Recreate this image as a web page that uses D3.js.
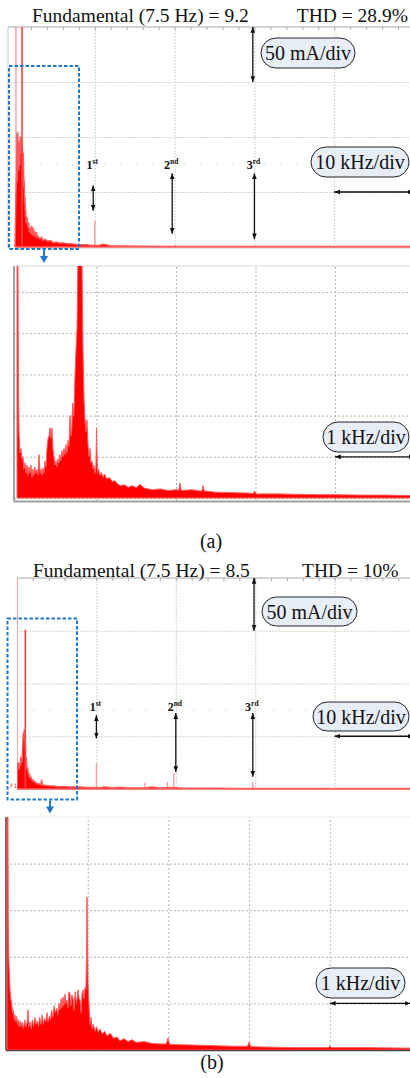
<!DOCTYPE html>
<html>
<head>
<meta charset="utf-8">
<script src="https://cdn.jsdelivr.net/npm/d3@7"></script>
<style>
  body { margin: 0; background: #fff; }
  text { font-family: "Liberation Serif", "Times New Roman", serif; fill: #111; }
</style>
</head>
<body>
<svg id="chart" width="410" height="1078"></svg>
<script>
// ---- (a) overview spectrum, 0-50 kHz, amplitude in mA
const specA = [[0,0],[0.1,40],[0.2,70],[0.25,103],[0.3,60],[0.35,104],[0.4,80],[0.45,96],[0.5,70],[0.55,94],
  [0.6,75],[0.65,100],[0.7,85],[0.75,98],[0.8,90],[0.85,95],[0.9,92],[0.95,88],[1.0,70],[1.05,85],[1.1,55],
  [1.15,61],[1.2,40],[1.25,45],[1.3,28],[1.35,33],[1.4,22],[1.5,27],[1.6,18],[1.7,22],[1.8,14],[1.9,17],
  [2.0,12],[2.1,19],[2.2,11],[2.3,17],[2.4,10],[2.5,14],[2.6,9],[2.7,13],[2.8,8],[2.9,10],[3.1,7],[3.3,9],
  [3.5,6],[3.8,7],[4.1,5],[4.4,6],[4.8,4],[5.2,4.5],[5.6,3.5],[6.0,3.8],[6.5,3],[7.0,3],[7.5,2.5],[8.0,2.2],
  [8.5,2],[9.0,2.2],[9.5,1.5],[10.5,1.5],[11,2.5],[12,1.2],[14,1.0],[16,0.8],[20,0.6],[25,0.5],[30,0.5],
  [40,0.4],[50,0.4]];
const spikesA = [[0.12,200],[10.0,23.6],[20.05,1.8],[30,1.5]];
const peakA = [[0.88,200]];

// ---- (a) zoomed spectrum, 0-5 kHz, amplitude in divisions
const zoomA = [[0,5.7],[0.012,5.7],[0.018,2.7],[0.025,1.6],[0.037,1.1],[0.05,1.2],[0.062,0.95],[0.075,1.0],
  [0.087,0.7],[0.1,0.85],[0.112,0.6],[0.125,0.8],[0.137,0.55],[0.15,0.75],[0.162,0.6],[0.175,0.8],[0.187,0.5],
  [0.2,0.7],[0.212,0.55],[0.225,0.75],[0.237,0.6],[0.25,0.68],[0.262,0.55],[0.277,1.05],[0.29,0.6],[0.302,0.7],
  [0.315,0.55],[0.327,0.73],[0.34,0.6],[0.352,0.9],[0.365,0.75],[0.377,1.2],[0.39,1.45],[0.403,1.5],[0.415,1.7],
  [0.428,1.45],[0.44,1.7],[0.452,1.2],[0.465,1.0],[0.478,0.8],[0.49,0.9],[0.503,0.75],[0.515,0.95],[0.528,0.85],
  [0.54,1.05],[0.553,0.9],[0.566,1.15],[0.578,1.0],[0.591,1.2],[0.604,1.05],[0.616,1.3],[0.629,1.1],[0.642,1.4],
  [0.654,1.25],[0.667,2.0],[0.68,1.5],[0.69,1.7],[0.70,2.3],[0.715,2.0],[0.73,3.0],[0.742,3.6],[0.755,4.1],
  [0.765,5.7],[0.818,5.7],[0.83,3.6],[0.843,2.4],[0.855,1.9],[0.868,1.6],[0.88,1.9],[0.893,1.3],[0.905,1.0],
  [0.918,1.2],[0.93,0.85],[0.943,0.9],[0.955,0.7],[0.968,0.8],[0.98,0.6],[0.993,0.75],[1.0,1.7],[1.012,0.6],
  [1.025,0.7],[1.044,0.55],[1.06,0.62],[1.08,0.5],[1.1,0.58],[1.13,0.46],[1.16,0.5],[1.2,0.4],[1.23,0.42],
  [1.26,0.35],[1.3,0.3],[1.35,0.32],[1.4,0.26],[1.45,0.3],[1.5,0.25],[1.547,0.33],[1.6,0.24],[1.7,0.2],
  [1.8,0.22],[1.9,0.18],[2.0,0.2],[2.035,0.19],[2.05,0.36],[2.065,0.18],[2.2,0.2],[2.3,0.17],[2.325,0.17],
  [2.34,0.3],[2.355,0.17],[2.5,0.14],[2.7,0.13],[2.9,0.12],[2.975,0.11],[2.99,0.17],[3.005,0.1],[3.3,0.1],
  [3.5,0.09],[3.8,0.08],[4.0,0.08],[4.3,0.07],[4.6,0.07],[5.0,0.06]];

// ---- (b) overview spectrum
const specB = [[0,0],[0.05,22],[0.12,25],[0.18,20],[0.25,24],[0.3,19],[0.38,25],[0.42,22],[0.47,30],[0.52,24],
  [0.58,27],[0.63,26],[0.68,35],[0.72,42],[0.76,48],[0.8,53],[0.86,50],[0.92,56],[0.96,48],[1.0,46],[1.05,40],
  [1.1,27],[1.16,30],[1.22,22],[1.3,18],[1.36,20],[1.42,14],[1.5,15],[1.55,11],[1.62,13],[1.7,10],[1.78,11],
  [1.85,8.5],[1.95,9],[2.06,6.6],[2.2,7.5],[2.35,5.5],[2.48,5.7],[2.6,4.5],[2.8,5],[3.0,4],[3.1,8.5],[3.2,3.8],
  [3.5,3.5],[3.8,3.2],[4.16,2.8],[4.5,3],[5,2.4],[5.5,2.2],[6,2.5],[6.5,1.9],[7,2],[7.5,1.8],[8,1.9],[8.5,1.6],
  [9,1.5],[9.5,1.4],[10.5,1.3],[11,2],[12,1.2],[13,1.8],[14,1.1],[16,1.0],[17,2],[18,0.9],[19.5,1.5],[21,0.8],
  [23,0.7],[25,0.7],[28,0.6],[30.5,0.6],[35,0.5],[40,0.5],[45,0.5],[50,0.5]];
const spikesB = [[0.03,200],[10.0,24.6],[16.1,6],[18.95,6.6],[19.75,15],[29.7,6.6]];
const peakB = [[1.05,151]];

// ---- (b) zoomed spectrum
const zoomB = [[0,5.0],[0.012,5.0],[0.016,2.6],[0.022,2.0],[0.028,1.7],[0.037,1.3],[0.047,1.1],[0.058,1.0],
  [0.068,0.8],[0.078,0.86],[0.09,0.65],[0.1,0.75],[0.11,0.6],[0.12,0.72],[0.13,0.55],[0.14,0.65],[0.15,0.5],
  [0.16,0.62],[0.175,0.5],[0.19,0.6],[0.205,0.45],[0.22,0.64],[0.235,0.5],[0.25,0.6],[0.26,0.86],[0.27,0.5],
  [0.285,0.6],[0.3,0.45],[0.315,0.65],[0.33,0.5],[0.345,0.7],[0.36,0.55],[0.375,0.62],[0.39,0.5],[0.405,0.7],
  [0.42,0.55],[0.435,0.75],[0.45,0.55],[0.465,0.68],[0.48,0.6],[0.495,0.8],[0.51,0.6],[0.525,0.72],[0.54,0.65],
  [0.555,0.85],[0.57,0.7],[0.585,0.95],[0.6,0.8],[0.615,0.9],[0.63,0.75],[0.645,1.0],[0.657,0.86],[0.67,1.1],
  [0.68,0.9],[0.694,1.14],[0.705,0.95],[0.72,1.2],[0.73,1.0],[0.743,1.07],[0.755,0.9],[0.768,1.25],[0.78,1.22],
  [0.79,0.95],[0.805,1.18],[0.818,1.1],[0.83,0.85],[0.845,1.25],[0.86,1.0],[0.88,1.29],[0.893,1.1],[0.905,1.07],
  [0.918,0.8],[0.93,1.2],[0.942,1.29],[0.955,1.1],[0.967,1.35],[0.978,1.3],[0.985,2.0],[0.991,3.28],[0.997,2.4],
  [1.004,1.43],[1.015,1.0],[1.028,0.55],[1.04,0.7],[1.055,0.45],[1.07,0.55],[1.09,0.4],[1.11,0.5],[1.13,0.38],
  [1.15,0.45],[1.18,0.35],[1.21,0.4],[1.24,0.3],[1.28,0.36],[1.32,0.25],[1.36,0.28],[1.4,0.2],[1.45,0.24],
  [1.5,0.18],[1.55,0.22],[1.6,0.16],[1.7,0.18],[1.8,0.14],[1.9,0.13],[1.975,0.13],[1.995,0.26],[2.015,0.12],
  [2.2,0.11],[2.4,0.1],[2.6,0.09],[2.8,0.08],[2.98,0.08],[2.999,0.17],[3.02,0.07],[3.3,0.06],[3.6,0.05],
  [3.985,0.05],[4.0,0.09],[4.015,0.05],[4.5,0.05],[5.0,0.04]];

// harmonic annotations (kHz, mA)
const harmNum = ["1", "2", "3"];
const harmSup = ["st", "nd", "rd"];
const harmFreqA = [9.8, 19.7, 30], harmTopA = [56, 67, 67], harmBotA = [33, 12, 7];
const harmFreqB = [10, 20, 29.7], harmTopB = [70, 72, 72], harmBotB = [48, 16, 11.5];

const svg = d3.select("#chart");
svg.append("rect").attr("width", 410).attr("height", 1078).attr("fill", "#fff");
const defs = svg.append("defs");
defs.append("marker").attr("id", "head").attr("viewBox", "0 0 10 10")
  .attr("refX", 10).attr("refY", 5).attr("markerWidth", 4.5).attr("markerHeight", 4.5)
  .attr("orient", "auto-start-reverse")
  .append("path").attr("d", "M0,1L10,5L0,9Z").attr("fill", "#111");

function arrow(x1, y1, x2, y2) {
  svg.append("line").attr("x1", x1).attr("y1", y1).attr("x2", x2).attr("y2", y2)
    .attr("stroke", "#111").attr("stroke-width", 1.3)
    .attr("marker-start", "url(#head)").attr("marker-end", "url(#head)");
}

function pill(x, y, w, h, label) {
  svg.append("rect").attr("x", x).attr("y", y).attr("width", w).attr("height", h)
    .attr("rx", h / 2).attr("fill", "#e8eef8").attr("stroke", "#222").attr("stroke-width", 1);
  svg.append("text").attr("x", x + w / 2).attr("y", y + h / 2 + 7)
    .attr("text-anchor", "middle").attr("font-size", 20).text(label);
}

function panel(cfg) {
  const x = d3.scaleLinear().domain(cfg.xDomain).range(cfg.xRange);
  const y = d3.scaleLinear().domain(cfg.yDomain).range(cfg.yRange);
  const [fx0, fy0, fx1, fy1] = cfg.frame;
  const g = svg.append("g");

  defs.append("clipPath").attr("id", "clip" + cfg.id).append("rect")
    .attr("x", fx0).attr("y", fy0).attr("width", fx1 - fx0).attr("height", fy1 - fy0);

  // grid through axes
  const gx = g.append("g").attr("transform", `translate(0,${fy1})`)
    .call(d3.axisBottom(x).tickValues(cfg.xGrid).tickSize(-(fy1 - fy0)).tickFormat(""));
  const gy = g.append("g").attr("transform", `translate(${fx0},0)`)
    .call(d3.axisLeft(y).tickValues(cfg.yGrid).tickSize(-(fx1 - fx0)).tickFormat(""));
  [gx, gy].forEach(a => {
    a.select(".domain").remove();
    a.selectAll("line").attr("stroke", cfg.gridColor).attr("stroke-dasharray", cfg.gridDash);
  });

  if (cfg.center != null) {
    g.append("line").attr("x1", fx0).attr("x2", fx1).attr("y1", y(cfg.center)).attr("y2", y(cfg.center))
      .attr("stroke", "#cfcfcf").attr("stroke-dasharray", "1.5,14.5");
  }
  if (cfg.topTicks) {
    g.append("g").attr("transform", `translate(0,${fy0})`)
      .call(d3.axisBottom(x).tickValues(d3.range(cfg.xDomain[0], cfg.xDomain[1], 2)).tickSize(3).tickFormat(""))
      .call(a => a.select(".domain").remove())
      .selectAll("line").attr("stroke", "#aaa");
  }

  // frame
  g.append("line").attr("x1", fx0).attr("x2", fx1).attr("y1", fy0).attr("y2", fy0)
    .attr("stroke", cfg.topColor).attr("stroke-width", 1);
  if (cfg.leftColor) {
    g.append("line").attr("x1", fx0).attr("x2", fx0).attr("y1", fy0).attr("y2", cfg.bottomY)
      .attr("stroke", cfg.leftColor).attr("stroke-width", cfg.borderWidth);
  }
  if (cfg.bottomColor) {
    g.append("line").attr("x1", fx0).attr("x2", fx1).attr("y1", cfg.bottomY).attr("y2", cfg.bottomY)
      .attr("stroke", cfg.bottomColor).attr("stroke-width", cfg.borderWidth);
  }

  const plot = g.append("g").attr("clip-path", `url(#clip${cfg.id})`);
  const spikeLine = (data, color, w) => plot.selectAll(null).data(data).join("line")
    .attr("x1", d => x(d[0])).attr("x2", d => x(d[0]))
    .attr("y1", y(0)).attr("y2", d => y(d[1]))
    .attr("stroke", color).attr("stroke-width", w);

  if (cfg.spikes) spikeLine(cfg.spikes, "#ff9c9c", 1.4);

  const area = d3.area().x(d => x(d[0])).y0(y(0)).y1(d => y(d[1]));
  plot.append("path").datum(cfg.data).attr("d", area)
    .attr("fill", "#ff0000").attr("stroke", "#ff5a5a").attr("stroke-width", cfg.areaStroke)
    .attr("stroke-linejoin", "round");

  if (cfg.peak) spikeLine(cfg.peak, "#ff4040", 1.6);
  return { x, y };
}

// ---------- (a) overview ----------
const pA = panel({
  id: "A", data: specA, spikes: spikesA, peak: peakA,
  xDomain: [0, 50], xRange: [15, 414], yDomain: [0, 200], yRange: [247, 27],
  frame: [8, 27, 414, 248], bottomY: 248.5,
  xGrid: [10, 20, 30, 40], yGrid: [50, 100, 150], center: 75, topTicks: true,
  gridColor: "#d4d4d4", gridDash: "2,1", topColor: "#a8a8a8",
  leftColor: "#cfd3d8", bottomColor: "#dfe5ee", borderWidth: 1.2, areaStroke: 1.4
});

// ---------- (a) zoom ----------
const zA = panel({
  id: "ZA", data: zoomA,
  xDomain: [0, 5], xRange: [17, 414.5], yDomain: [0, 5.63], yRange: [498, 266],
  frame: [14, 266, 414, 501], bottomY: 501.5,
  xGrid: [1, 2, 3, 4], yGrid: [0, 1, 2, 3, 4, 5],
  gridColor: "#b3b3b3", gridDash: "2,2", topColor: "#d8d8d8",
  leftColor: "#a0a0a0", bottomColor: "#a0a0a0", borderWidth: 2, areaStroke: 1
});

// ---------- (b) overview ----------
const pB = panel({
  id: "B", data: specB, spikes: spikesB, peak: peakB,
  xDomain: [0, 50], xRange: [17, 414], yDomain: [0, 200], yRange: [789, 578],
  frame: [17, 578, 414, 790], bottomY: 790,
  xGrid: [10, 20, 30, 40], yGrid: [50, 100, 150], center: 75, topTicks: true,
  gridColor: "#d4d4d4", gridDash: "2,1", topColor: "#a8a8a8",
  leftColor: null, bottomColor: null, borderWidth: 1, areaStroke: 1.4
});

// ---------- (b) zoom ----------
const zB = panel({
  id: "ZB", data: zoomB,
  xDomain: [0, 5], xRange: [7, 410.5], yDomain: [0, 5], yRange: [1050, 817],
  frame: [6, 817, 414, 1050], bottomY: 1050.5,
  xGrid: [1, 2, 3, 4], yGrid: [1, 2, 3, 4],
  gridColor: "#b3b3b3", gridDash: "2,2", topColor: "#eeeeee",
  leftColor: "#444", bottomColor: "#444", borderWidth: 1.6, areaStroke: 1
});

// titles
svg.append("text").attr("x", 32).attr("y", 22).attr("font-size", 19.5).text("Fundamental (7.5 Hz) = 9.2");
svg.append("text").attr("x", 408).attr("y", 22).attr("text-anchor", "end").attr("font-size", 19.5).text("THD = 28.9%");
svg.append("text").attr("x", 33).attr("y", 576.5).attr("font-size", 19.5).text("Fundamental (7.5 Hz) = 8.5");
svg.append("text").attr("x", 302).attr("y", 576.5).attr("font-size", 19.5).text("THD = 10%");
svg.append("text").attr("x", 211).attr("y", 548).attr("text-anchor", "middle").attr("font-size", 20).text("(a)");
svg.append("text").attr("x", 212).attr("y", 1069).attr("text-anchor", "middle").attr("font-size", 20).text("(b)");
svg.append("text").attr("x", 10).attr("y", 788).attr("font-size", 6).style("fill", "#e05050")
  .style("font-family", "DejaVu Sans").text("F1");

// harmonic markers
function harmonics(p, freqs, tops, bots, labelVal) {
  freqs.forEach((f, i) => {
    const t = svg.append("text").attr("x", p.x(f) - 1).attr("y", p.y(labelVal))
      .attr("text-anchor", "middle").attr("font-size", 12).attr("font-weight", "bold");
    t.append("tspan").text(harmNum[i]);
    t.append("tspan").attr("dy", -5).attr("font-size", 7.5).text(harmSup[i]);
    arrow(p.x(f), p.y(tops[i]), p.x(f), p.y(bots[i]));
  });
}
harmonics(pA, harmFreqA, harmTopA, harmBotA, 71);
harmonics(pB, harmFreqB, harmTopB, harmBotB, 74);

// scale arrows and pills
arrow(pA.x(29.8), pA.y(200), pA.x(29.8), pA.y(150));
pill(261, 38, 94, 30, "50 mA/div");
arrow(pA.x(40), pA.y(50), pA.x(50), pA.y(50));
pill(311, 147, 98, 30, "10 kHz/div");

arrow(zA.x(4), zA.y(1), zA.x(5), zA.y(1));
pill(323, 422, 86, 30, "1 kHz/div");

arrow(pB.x(29.85), pB.y(200), pB.x(29.85), pB.y(150));
pill(262, 597, 95, 29, "50 mA/div");
arrow(pB.x(40), pB.y(50), pB.x(50), pB.y(50));
pill(313, 702, 96, 29, "10 kHz/div");

arrow(zB.x(4), zB.y(1), zB.x(5), zB.y(1));
pill(316, 968, 89, 30, "1 kHz/div");

// dashed zoom boxes with down arrows
function zoomBox(x0, y0, x1, y1, ax) {
  svg.append("rect").attr("x", x0).attr("y", y0).attr("width", x1 - x0).attr("height", y1 - y0)
    .attr("fill", "none").attr("stroke", "#1f78cc").attr("stroke-width", 2).attr("stroke-dasharray", "3.5,2");
  svg.append("line").attr("x1", ax).attr("x2", ax).attr("y1", y1 + 1).attr("y2", y1 + 8)
    .attr("stroke", "#1f78cc").attr("stroke-width", 2);
  svg.append("path").attr("d", `M${ax - 4},${y1 + 7}L${ax + 4},${y1 + 7}L${ax},${y1 + 14}Z`).attr("fill", "#1f78cc");
}
zoomBox(9, 66, 79, 249, 44);
zoomBox(7.5, 618.5, 77, 799.5, 50);
</script>
</body>
</html>
